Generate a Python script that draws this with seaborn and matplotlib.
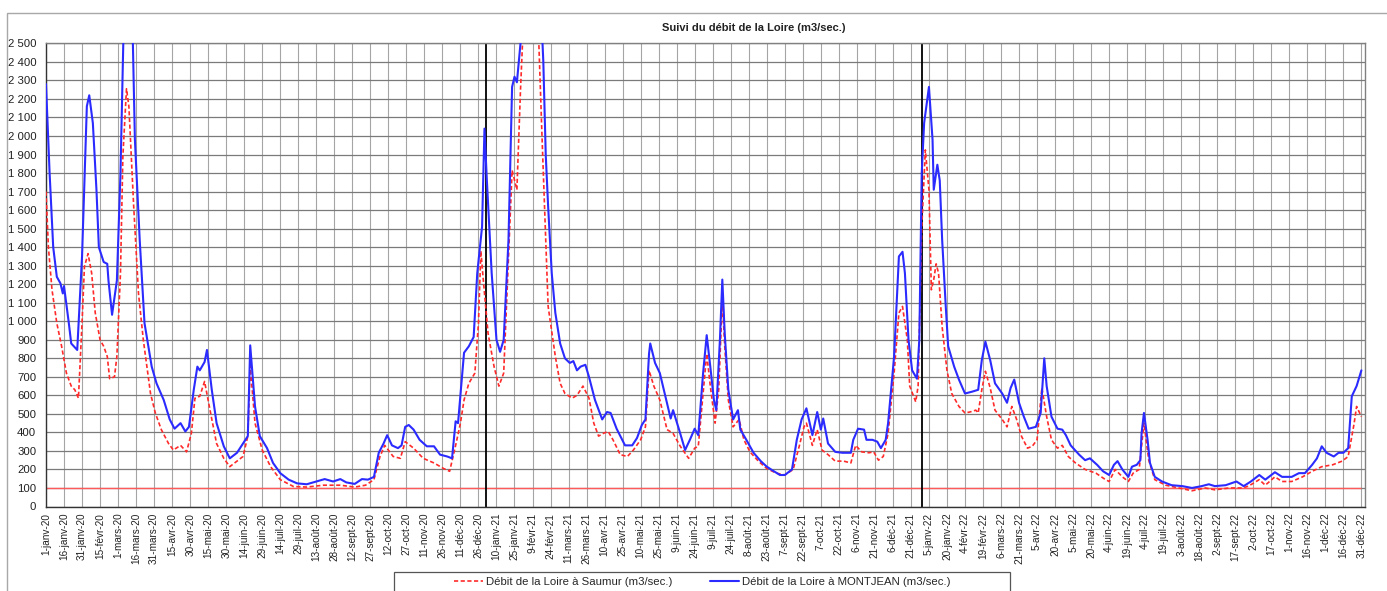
#suivi du debit de la Loire - Saumur et Montjean, 2020 a 2022
import pandas as pd
import matplotlib
matplotlib.use('Agg')
import matplotlib.pyplot as plt
import seaborn as sns
from matplotlib.patches import Rectangle

# jours comptes depuis le 1er janvier 2020
debut = pd.Timestamp('2020-01-01')

montjean_jour = [0, 3, 6, 9, 12, 14, 15, 19, 21, 26, 30, 34, 36, 39, 42, 44, 48, 51, 52, 55, 59, 62, 65, 69, 72, 74,
                 78, 82, 88, 92, 98, 103, 107, 112, 116, 119, 123, 126, 128, 132, 134, 138, 142, 148, 153, 159, 164,
                 168, 170, 174, 178, 184, 189, 195, 202, 209, 217, 225, 232, 239, 245, 250, 257, 263, 268, 273, 277,
                 281, 284, 288, 293, 296, 299, 302, 306, 311, 317, 323, 328, 334, 338, 341, 343, 348, 352, 356, 359,
                 363, 365,
                 367, 371, 375, 378, 381, 385, 388, 390, 392, 395, 403, 412, 414, 416, 418, 421, 424, 428, 432, 436,
                 439, 442, 445, 449, 452, 457, 463, 467, 470, 475, 482, 488, 492, 496, 499, 502, 503, 507, 511, 515,
                 520, 522, 527, 532, 536, 540, 543, 547, 550, 553, 556, 558, 561, 563, 565, 568, 572, 576, 578, 583,
                 589, 595, 600, 606, 611, 615, 621, 625, 629, 633, 638, 642, 645, 647, 651, 657, 663, 670, 672, 676,
                 681, 683, 688, 692, 695, 699, 701, 706, 710, 713, 715, 718, 721, 725, 727,
                 729, 731, 735, 738, 739, 742, 744, 746, 749, 751, 756, 760, 765, 771, 776, 779, 782, 786, 790, 796,
                 800, 803, 806, 810, 814, 818, 824, 828, 831, 833, 837, 842, 846, 849, 853, 860, 865, 869, 875, 880,
                 885, 889, 892, 896, 901, 904, 908, 911, 912, 914, 917, 919, 923, 929, 937, 946, 954, 962, 968, 973,
                 982, 991, 997, 1003, 1010, 1015, 1023, 1029, 1037, 1043, 1048, 1054, 1058, 1062, 1066, 1072, 1076,
                 1080, 1084, 1087, 1091, 1095]
montjean_debit = [2280, 1800, 1400, 1240, 1205, 1150, 1190, 990, 880, 845, 1350, 2160, 2220, 2070, 1710, 1400, 1320,
                  1310, 1220, 1035, 1220, 1800, 2700, 2900, 2600, 1980,
                  1440, 990, 755, 665, 575, 470, 420, 450, 405, 430, 630, 755, 735, 780, 845, 630, 450, 325, 260, 290,
                  340, 380, 870, 540, 380, 315, 235, 180, 145, 125, 120, 135, 148, 135, 148, 130, 122, 148, 145, 160,
                  290, 340, 385, 330, 315, 330, 430, 440, 415, 360, 325, 325, 280, 270, 260, 460, 450, 830, 865, 915,
                  1260, 1510, 2040,
                  1760, 1260, 900, 835, 900, 1440, 2265, 2320, 2290, 2500, 3000, 2700, 2400, 1900, 1620, 1260, 1045,
                  880, 800, 775, 785, 735, 755, 765, 700, 575, 470, 510, 505, 420, 330, 330, 370, 440, 470, 825, 880,
                  775, 720, 610, 475, 520, 415, 305, 360, 420, 385, 720, 925, 755, 575, 520, 900, 1225, 935, 630, 470,
                  520, 415, 360, 290, 245, 215, 190, 170, 170, 200, 360, 470, 530, 385, 510, 415, 475, 340, 295, 290,
                  290, 360, 420, 415, 360, 360, 350, 315, 360, 450, 810, 1350, 1375, 1260, 900, 735, 690, 900,
                  1800, 2070, 2265, 1980, 1710, 1845, 1760, 1440, 1080, 865, 755, 685, 610, 620, 630, 790, 890, 790,
                  665, 610, 560, 640, 685, 560, 485, 420, 430, 505, 800, 650, 485, 420, 415, 385, 330, 280, 250, 260,
                  225, 190, 170, 225, 245, 200, 160, 215, 225, 250, 395, 505, 360, 235, 160, 135, 115, 110, 100, 110,
                  120, 110, 115, 135, 110, 135, 170, 145, 185, 160, 160, 180, 180, 225, 260, 325, 290, 270, 290, 290,
                  315, 595, 650, 735]

saumur_jour = [0, 2, 5, 9, 13, 17, 21, 24, 27, 30, 32, 35, 38, 41, 45, 48, 51, 53, 57, 59, 62, 64, 67, 69, 73, 77, 81,
               87, 91, 96, 102, 106, 112, 117, 121, 124, 128, 132, 137, 142, 148, 153, 159, 164, 168, 170, 174, 180,
               187, 195, 206, 217, 231, 245, 257, 266, 273, 278, 282, 289, 295, 299, 306, 314, 323, 331, 336, 341,
               345, 348, 352, 357, 360, 362, 364,
               368, 373, 377, 381, 385, 388, 392, 395, 397, 403, 410, 413, 416, 418, 424, 428, 432, 438, 442, 447,
               452, 456, 460, 464, 468, 472, 478, 484, 489, 495, 499, 502, 506, 511, 517, 522, 528, 535, 540, 543,
               547, 550, 553, 557, 560, 563, 565, 568, 572, 577, 581, 586, 593, 600, 608, 615, 622, 627, 631, 633,
               638, 642, 646, 651, 657, 664, 670, 674, 679, 685, 689, 693, 697, 701, 706, 710, 713, 717, 719, 724,
               726, 729,
               732, 735, 737, 739, 741, 743, 746, 750, 754, 760, 765, 769, 774, 776, 779, 782, 786, 790, 796, 800,
               804, 808, 812, 817, 821, 825, 829, 833, 837, 842, 846, 851, 857, 865, 874, 882, 885, 890, 896, 901,
               905, 910, 914, 918, 923, 932, 943, 954, 965, 973, 985, 996, 1001, 1010, 1015, 1023, 1029, 1037, 1046,
               1054, 1062, 1071, 1079, 1084, 1089, 1091, 1095]
saumur_debit = [1700, 1400, 1170, 990, 865, 720, 650, 630, 585, 990, 1295, 1365, 1260, 1045, 900, 865, 810, 690, 700,
                810, 1260, 1890, 2255, 2160, 1620, 1150, 900, 610, 505, 415, 340, 305, 330, 295, 395, 585, 595, 675,
                505, 340, 260, 215, 245, 270, 380, 760, 450, 305, 215, 145, 108, 105, 115, 115, 105, 115, 145, 270,
                330, 270, 260, 350, 315, 260, 235, 205, 190, 330, 450, 575, 665, 720, 990, 1380, 1225,
                935, 755, 650, 720, 1350, 1815, 1710, 2250, 2550, 2800, 2550, 1980, 1440, 1080, 810, 665, 610, 585,
                600, 650, 585, 450, 380, 395, 405, 360, 280, 270, 305, 360, 430, 735, 650, 575, 415, 395, 325, 260,
                315, 325, 610, 825, 650, 450, 630, 1120, 865, 575, 430, 470, 360, 295, 245, 205, 180, 170, 200, 325,
                430, 450, 330, 415, 305, 280, 245, 245, 235, 330, 295, 290, 295, 250, 270, 395, 720, 1045, 1080, 900,
                650, 565, 650, 1500,
                1925, 1710, 1170, 1225, 1310, 1260, 970, 735, 610, 540, 505, 510, 520, 505, 630, 730, 640, 520, 470,
                430, 540, 470, 380, 315, 325, 360, 640, 485, 360, 315, 330, 270, 235, 200, 180, 145, 135, 200, 160,
                135, 180, 200, 450, 250, 145, 115, 100, 85, 100, 90, 100, 100, 110, 145, 115, 160, 135, 135, 160,
                190, 215, 225, 245, 270, 450, 540, 485]

seuil = 100
annees = ['2021-01-01', '2021-12-30']
mois = ['janv', 'févr', 'mars', 'avr', 'mai', 'juin', 'juil', 'août', 'sept', 'oct', 'nov', 'déc']

df_m = pd.DataFrame({'date': debut + pd.to_timedelta(montjean_jour, unit='D'), 'debit': montjean_debit})
df_s = pd.DataFrame({'date': debut + pd.to_timedelta(saumur_jour, unit='D'), 'debit': saumur_debit})

sns.set_theme(style="white")
plt.rcParams['font.family'] = ['Liberation Sans', 'DejaVu Sans']

W, H = 1387, 591
fig = plt.figure(figsize=(W / 100, H / 100), dpi=100)
ax = fig.add_axes([46 / W, 1 - 506.5 / H, (1365 - 46) / W, (506.5 - 43.4) / H])

ax.hlines(seuil, debut, debut + pd.Timedelta(days=1095), color='#ff5a5a', lw=1, zorder=2)
for a in annees:
    ax.axvline(pd.Timestamp(a), color='black', lw=1.3, zorder=2)

sns.lineplot(data=df_s, x='date', y='debit', ax=ax, color='#ff2a2a', lw=1.2,
             linestyle=(0, (2.5, 1.5)), estimator=None, zorder=3)
sns.lineplot(data=df_m, x='date', y='debit', ax=ax, color='#2b2bff', lw=1.5, estimator=None, zorder=4)

# axes
ax.set_ylim(0, 2500)
ax.set_xlim(debut, debut + pd.Timedelta(days=1098))
yt = list(range(0, 2501, 100))
ax.set_yticks(yt)
ax.set_yticklabels([f"{v:,}".replace(',', ' ') for v in yt], fontsize=8.2, color='#222222')
xt = pd.date_range('2020-01-01', '2022-12-31', freq='15D')
ax.set_xticks(xt)
ax.set_xticklabels([f"{d.day}-{mois[d.month - 1]}-{d:%y}" for d in xt], rotation=90,
                   fontsize=7.2, color='#222222')
ax.tick_params(axis='both', length=2.5, width=0.8, color='#444444', direction='out')
ax.tick_params(axis='y', pad=4.5)
ax.tick_params(axis='x', pad=2)
ax.set_xlabel('')
ax.set_ylabel('')

ax.yaxis.grid(True, color='#7a7a7a', lw=0.9)
ax.xaxis.grid(True, color='#a5a5a5', lw=0.8)
ax.set_axisbelow(True)
for s in ax.spines.values():
    s.set_color('#808080')
    s.set_linewidth(1)
ax.spines['left'].set_color('#333333')
ax.spines['bottom'].set_color('#333333')

fig.text(754 / W, 1 - 28 / H, 'Suivi du débit de la Loire (m3/sec.)', ha='center', va='center',
         fontsize=8, fontweight='bold', color='#222222')

# cadres
fig.add_artist(Rectangle((7 / W, -0.1), 1.2, 1 - 12.7 / H + 0.1, transform=fig.transFigure,
                         fill=False, edgecolor='#a8a8a8', lw=1))
fig.add_artist(Rectangle((394 / W, -0.1), (1010 - 394) / W, 1 - 571.7 / H + 0.1, transform=fig.transFigure,
                         fill=False, edgecolor='#555555', lw=0.9))

h = ax.get_lines()
leg_handles = [plt.Line2D([], [], color='#ff2a2a', lw=1.2, linestyle=(0, (2.5, 1.5))),
               plt.Line2D([], [], color='#2b2bff', lw=1.5)]
fig.legend(leg_handles, ['Débit de la Loire à Saumur (m3/sec.)', 'Débit de la Loire à MONTJEAN (m3/sec.)'],
           loc='center', bbox_to_anchor=(702 / W, 1 - 582 / H), ncol=2, frameon=False, fontsize=8.2,
           handlelength=2.6, handletextpad=0.2, columnspacing=3.3)

fig.savefig('out.png', dpi=100)
